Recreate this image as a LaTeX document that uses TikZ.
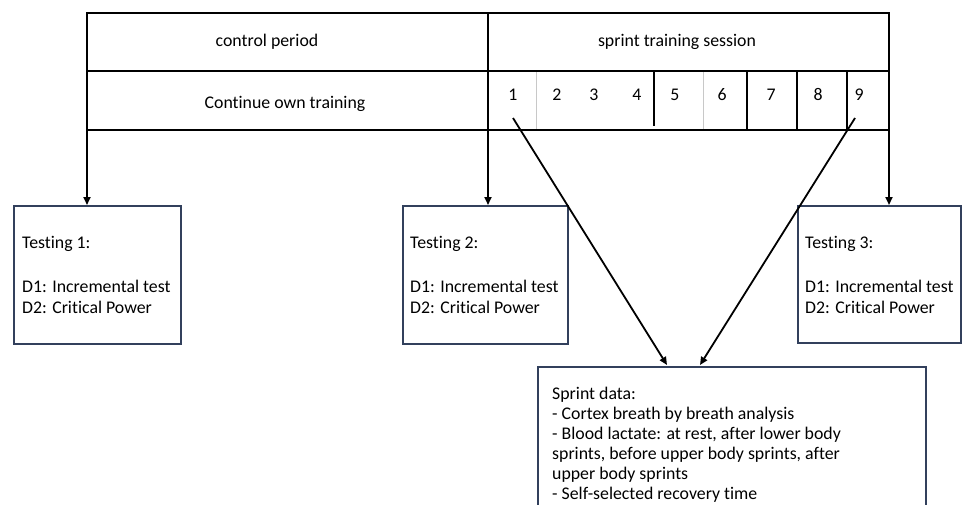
\documentclass[tikz,border=0pt]{standalone}
\usepackage{fontspec}
\setmainfont[Ligatures=NoCommon]{Carlito}
\usetikzlibrary{arrows.meta}
\definecolor{boxblue}{RGB}{50,64,92}
\definecolor{lightdiv}{RGB}{200,200,200}
\begin{document}
\begin{tikzpicture}[x=1pt,y=-1pt,
  tline/.style={line width=2.2pt,line cap=rect},
  divdark/.style={line width=1.3pt},
  divlight/.style={line width=0.7pt,draw=lightdiv},
  arr/.style={line width=1.8pt,-{Triangle[length=8pt,width=7pt]}},
  box/.style={draw=boxblue,line width=1.8pt,rectangle,inner sep=0pt,anchor=north west},
  txt/.style={inner sep=0pt,anchor=base west,font=\fontsize{17.8}{20}\selectfont},
  ctxt/.style={inner sep=0pt,anchor=base,font=\fontsize{17.8}{20}\selectfont}]
\useasboundingbox (0,0) rectangle (963,504);
\clip (0,0) rectangle (963,504);
\fill[white] (0,0) rectangle (963,504);

% table corners
\coordinate (tl) at (87,13);
\coordinate (tm) at (488,13);
\coordinate (tr) at (889,13);
\coordinate (ml) at (87,71);
\coordinate (mr) at (889,71);
\coordinate (bl) at (87,130);
\coordinate (bm) at (488,130);
\coordinate (br) at (889,130);

\draw[tline] (tl) -- (tr);
\draw[tline] (ml) -- (mr);
\draw[tline] (bl) -- (br);
\draw[tline] (tl) -- (bl);
\draw[tline] (tm) -- (bm);
\draw[tline] (tr) -- (br);

% dividers in sprint row
\coordinate (d1t) at (536,72); \coordinate (d1b) at (536,129);
\coordinate (d2t) at (654,70); \coordinate (d2b) at (654,126);
\coordinate (d3t) at (703,72); \coordinate (d3b) at (703,129);
\coordinate (d4t) at (747,72); \coordinate (d4b) at (747,129);
\coordinate (d5t) at (797,72); \coordinate (d5b) at (797,129);
\coordinate (d6t) at (847,72); \coordinate (d6b) at (847,129);
\draw[divlight] (d1t) -- (d1b);
\draw[divdark] (d2t) -- (d2b);
\draw[divlight] (d3t) -- (d3b);
\draw[divdark] (d4t) -- (d4b);
\draw[divdark] (d5t) -- (d5b);
\draw[divdark] (d6t) -- (d6b);

% table texts
\node[ctxt] (cp) at (267,46) {control period};
\node[ctxt] (cot) at (285,108) {Continue own training};
\node[ctxt] (sts) at (677,46) {sprint training session};
\node[ctxt] (n1) at (513,100) {1};
\node[ctxt] (n2) at (557,100) {2};
\node[ctxt] (n3) at (594,100) {3};
\node[ctxt] (n4) at (637,100) {4};
\node[ctxt] (n5) at (675,100) {5};
\node[ctxt] (n6) at (722,100) {6};
\node[ctxt] (n7) at (771,100) {7};
\node[ctxt] (n8) at (818,100) {8};
\node[ctxt] (n9) at (859,100) {9};

% testing boxes
\node[box,minimum width=167pt,minimum height=138pt] (t1) at (13,205) {};
\node[box,minimum width=165pt,minimum height=138pt] (t2) at (402,205) {};
\node[box,minimum width=163pt,minimum height=137pt] (t3) at (797,205) {};
\node[box,minimum width=388pt,minimum height=170pt] (sd) at (537,366) {};

\node[txt] (t1a) at (22,248) {Testing 1:};
\node[txt] (t1b) at (22,292) {D1: Incremental test};
\node[txt] (t1c) at (22,313) {D2: Critical Power};
\node[txt] (t2a) at (410,248) {Testing 2:};
\node[txt] (t2b) at (410,292) {D1: Incremental test};
\node[txt] (t2c) at (410,313) {D2: Critical Power};
\node[txt] (t3a) at (805,248) {Testing 3:};
\node[txt] (t3b) at (805,292) {D1: Incremental test};
\node[txt] (t3c) at (805,313) {D2: Critical Power};

\node[txt] (s1) at (552,399) {Sprint data:};
\node[txt] (s2) at (552,419) {- Cortex breath by breath analysis};
\node[txt] (s3) at (552,439) {- Blood lactate: at rest, after lower body};
\node[txt] (s4) at (552,459) {sprints, before upper body sprints, after};
\node[txt] (s5) at (552,479) {upper body sprints};
\node[txt] (s6) at (552,499) {- Self-selected recovery time};

% arrows
\draw[arr] (bl) -- (t1.north -| bl);
\draw[arr] (bm) -- (t2.north -| bm);
\draw[arr] (br) -- (t3.north -| br);
\coordinate (a1) at (513,118);
\coordinate (a9) at (855,118);
\coordinate (h1) at (667,365);
\coordinate (h9) at (700,365);
\draw[arr] (a1) -- (h1);
\draw[arr] (a9) -- (h9);
\end{tikzpicture}
\end{document}
